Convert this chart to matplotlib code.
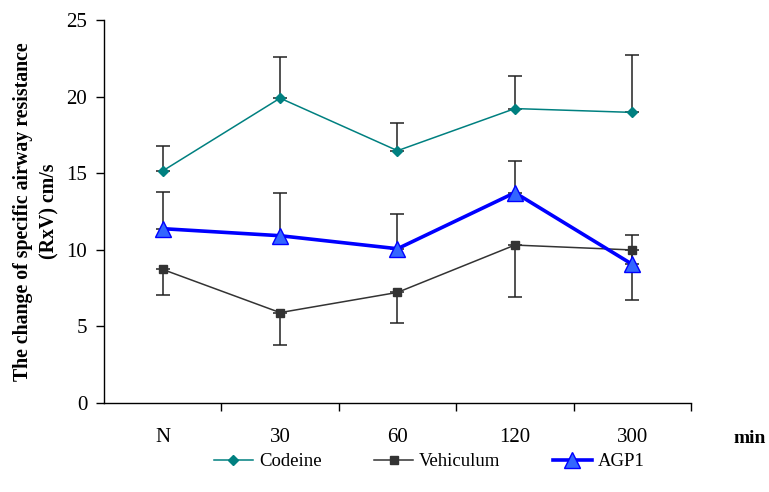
import matplotlib
matplotlib.use("Agg")
import matplotlib.pyplot as plt
import numpy as np

plt.rcParams['font.family'] = ['Liberation Serif', 'DejaVu Serif']

# time points (min) and group means with one-sided SEM bars
times = ['N', '30', '60', '120', '300']
codeine = [15.15, 19.9, 16.47, 19.22, 18.97]
codeine_up = [1.65, 2.7, 1.83, 2.15, 3.73]
vehiculum = [8.72, 5.9, 7.22, 10.31, 9.99]
vehiculum_down = [1.69, 2.09, 2.02, 3.37, 3.27]
agp1 = [11.38, 10.92, 10.07, 13.73, 9.05]
agp1_up = [2.42, 2.81, 2.27, 2.07, 1.9]

x = np.arange(len(times))
zeros = np.zeros(len(times))

fig = plt.figure(figsize=(7.69, 4.92), dpi=100)
ax = fig.add_axes([0.1352, 0.1809, 0.7634, 0.7784])

err_kw = dict(fmt='none', ecolor='#222222', elinewidth=1.1, capsize=5, capthick=1.1)
ax.errorbar(x, codeine, yerr=[zeros, codeine_up], zorder=2, **err_kw)
ax.errorbar(x, vehiculum, yerr=[vehiculum_down, zeros], zorder=2, **err_kw)
ax.errorbar(x, agp1, yerr=[zeros, agp1_up], zorder=2, **err_kw)

ax.plot(x, codeine, color='#008080', lw=1.1, marker='D', ms=5,
        mfc='#008080', mec='#008080', label='Codeine', zorder=3)
ax.plot(x, vehiculum, color='#333333', lw=1.1, marker='s', ms=6,
        mfc='#333333', mec='#333333', label='Vehiculum', zorder=3)
ax.plot(x, agp1, color='#0000FF', lw=2.6, marker='^', ms=11,
        mfc='#3366FF', mec='#0000FF', mew=1, label='AGP1', zorder=4)

ax.set_xlim(-0.5, 4.5)
ax.set_ylim(0, 25)
ax.set_yticks([0, 5, 10, 15, 20, 25])
ax.set_xticks(np.arange(0.5, 5, 1.0))
ax.set_xticklabels([])
ax.set_xticks(x, minor=True)
ax.set_xticklabels(times, minor=True)
ax.tick_params(axis='x', which='major', direction='out', length=6, width=1)
ax.tick_params(axis='x', which='minor', length=0, pad=18, labelsize=15)
ax.tick_params(axis='y', direction='out', length=6, width=1, labelsize=15, pad=6)

ax.spines['top'].set_visible(False)
ax.spines['right'].set_visible(False)
ax.spines['left'].set_linewidth(1)
ax.spines['bottom'].set_linewidth(1)

ax.set_ylabel('The change of specific airway resistance\n(RxV) cm/s',
              fontsize=14.3, fontweight='bold', labelpad=5, linespacing=1.45)
fig.text(0.996, 0.108, 'min', fontsize=14, fontweight='bold', ha='right', va='center')

ax.legend(loc='center', bbox_to_anchor=(0.554, -0.153), ncol=3, frameon=False,
          fontsize=13.5, handlelength=2.1, handletextpad=0.3, columnspacing=2.8,
          borderaxespad=0)

fig.savefig('out.png', dpi=100)
